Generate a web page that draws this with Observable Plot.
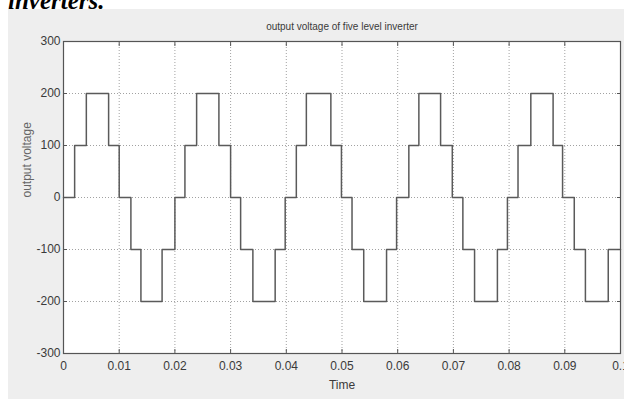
<!DOCTYPE html>
<html>
<head>
<meta charset="utf-8">
<script src="https://cdn.jsdelivr.net/npm/d3@7"></script>
<script src="https://cdn.jsdelivr.net/npm/@observablehq/plot@0.6"></script>
<style>
  html, body { margin: 0; padding: 0; background: #ffffff; overflow: hidden; }
  #wrap { position: relative; width: 624px; height: 399px; overflow: hidden; }
  #figbg { position: absolute; left: 8px; top: 9px; right: 0; bottom: 0; background: #eeeeee; }
  #cut { position: absolute; left: 8px; top: -13px; font-family: "Liberation Serif", "DejaVu Serif", serif;
         font-weight: bold; font-style: italic; font-size: 25px; color: #000; }
  #chart { position: absolute; left: 0; top: 0; }
</style>
</head>
<body>
<div id="wrap">
  <div id="figbg"></div>
  <div id="cut">inverters.</div>
  <div id="chart"></div>
</div>
<script>
const titleText = "output voltage of five level inverter";
const xLabel = "Time";
const yLabel = "output voltage";
const xTicks = [0, 0.01, 0.02, 0.03, 0.04, 0.05, 0.06, 0.07, 0.08, 0.09, 0.1];
const xTickLabels = ["0", "0.01", "0.02", "0.03", "0.04", "0.05", "0.06", "0.07", "0.08", "0.09", "0.1"];
const yTicks = [-300, -200, -100, 0, 100, 200, 300];
const yTickLabels = ["-300", "-200", "-100", "0", "100", "200", "300"];

// switching instants (s) and the level held from each instant onward
const stepTimes = [
  0, 0.0020, 0.0041, 0.0081, 0.0100, 0.0121, 0.0139, 0.0177,
  0.0200, 0.0218, 0.0239, 0.0279, 0.0300, 0.0318, 0.0340, 0.0380,
  0.0398, 0.0418, 0.0436, 0.0480, 0.0499, 0.0518, 0.0539, 0.0580,
  0.0598, 0.0620, 0.0638, 0.0677, 0.0698, 0.0717, 0.0738, 0.0779,
  0.0797, 0.0816, 0.0839, 0.0879, 0.0896, 0.0917, 0.0937, 0.0978,
  0.1000
];
const stepLevels = [
  0, 100, 200, 100, 0, -100, -200, -100,
  0, 100, 200, 100, 0, -100, -200, -100,
  0, 100, 200, 100, 0, -100, -200, -100,
  0, 100, 200, 100, 0, -100, -200, -100,
  0, 100, 200, 100, 0, -100, -200, -100,
  -100
];

const wave = stepTimes.map((t, i) => ({t, v: stepLevels[i]}));
const fontFam = '"Liberation Sans", Arial, sans-serif';
const fmtX = d => xTickLabels[xTicks.indexOf(d)] ?? String(d);
const fmtY = d => yTickLabels[yTicks.indexOf(d)] ?? String(d);

const chart = Plot.plot({
  width: 624,
  height: 399,
  marginLeft: 63,
  marginRight: 4,
  marginTop: 41,
  marginBottom: 46,
  style: {background: "transparent", fontFamily: fontFam, fontSize: "12px", color: "#333", overflow: "visible"},
  x: {domain: [0, 0.1]},
  y: {domain: [-300, 300]},
  marks: [
    Plot.frame({fill: "white", stroke: null}),
    Plot.gridX(xTicks, {stroke: "#8a8a8a", strokeOpacity: 0.8, strokeDasharray: "1,2"}),
    Plot.gridY(yTicks, {stroke: "#8a8a8a", strokeOpacity: 0.8, strokeDasharray: "1,2"}),
    Plot.line(wave, {x: "t", y: "v", curve: "step-after", stroke: "#5a5a5a", strokeWidth: 1.5}),
    Plot.frame({stroke: "#555", strokeWidth: 1.2}),
    Plot.axisX(xTicks, {anchor: "bottom", tickSize: 0, tickPadding: 8, tickFormat: fmtX, label: null, fill: "#3a3a3a"}),
    Plot.axisX(xTicks, {anchor: "bottom", tickSize: -4, text: null, label: null, stroke: "#555"}),
    Plot.axisX(xTicks, {anchor: "top", tickSize: -4, text: null, label: null, stroke: "#555"}),
    Plot.axisY(yTicks, {anchor: "left", tickSize: 0, tickPadding: 3, tickFormat: fmtY, label: null, fill: "#3a3a3a"}),
    Plot.axisY(yTicks, {anchor: "left", tickSize: -4, text: null, label: null, stroke: "#555"}),
    Plot.axisY(yTicks, {anchor: "right", tickSize: -4, text: null, label: null, stroke: "#555"}),
    Plot.text([titleText], {frameAnchor: "top", dy: -19, fontSize: 10, fill: "#3a3a3a"}),
    Plot.text([xLabel], {frameAnchor: "bottom", dy: 35, fontSize: 12, fill: "#3a3a3a"}),
    Plot.text([yLabel], {frameAnchor: "left", dx: -36, rotate: -90, fontSize: 12, fill: "#666"})
  ]
});
document.getElementById("chart").appendChild(chart);
</script>
</body>
</html>
